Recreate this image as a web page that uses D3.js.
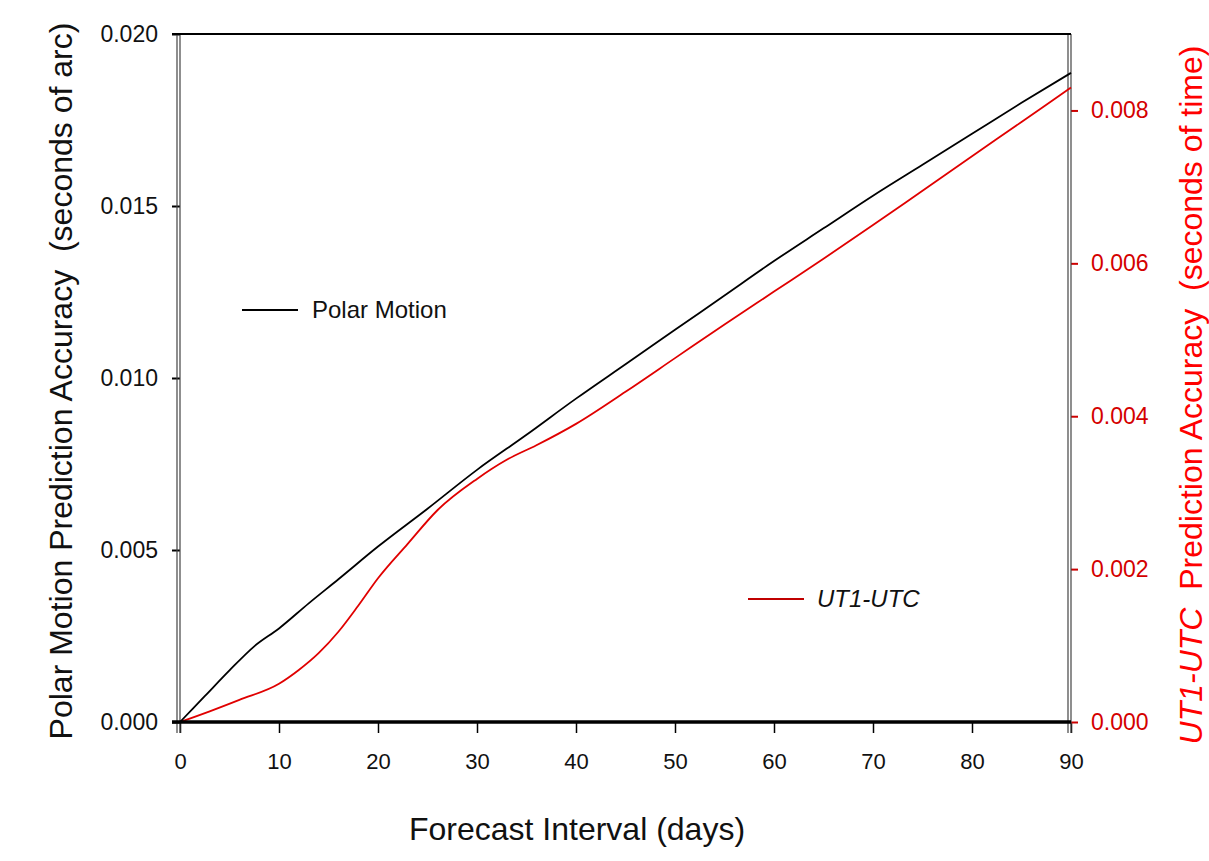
<!DOCTYPE html>
<html lang="en">
<head>
<meta charset="utf-8">
<style type="text/css">
    body { margin: 0; background: #fff; font-family: "Liberation Sans", Arial, sans-serif; }
    svg { display: block; }
    .tick text { font-family: "Liberation Sans", Arial, sans-serif; }
    .title { white-space: pre; }
</style>
</head>
<body>
<div id="chart"></div>
<script src="https://d3js.org/d3.v7.min.js"></script>
<script type="text/javascript">
    // forecast interval in days
    var polarDays   = [0, 2.5, 5, 7.5, 10, 13, 16, 20, 25, 30, 35, 40, 45, 50, 55, 60, 65, 70, 75, 80, 85, 90];
    // polar motion accuracy, seconds of arc (left axis)
    var polarValues = [0, 0.00075, 0.0015, 0.0022, 0.00272, 0.00345, 0.00415, 0.0051, 0.0062, 0.00733, 0.00835,
                       0.0094, 0.0104, 0.0114, 0.0124, 0.0134, 0.01435, 0.0153, 0.0162, 0.0171, 0.0180, 0.01887];

    var utDays   = [0, 3, 6, 10, 12, 14, 16, 18, 20, 23, 26, 30, 33, 36, 40, 45, 50, 55, 60, 65, 70, 75, 80, 85, 90];
    // UT1-UTC accuracy, seconds of time (right axis)
    var utValues = [0, 0.00014, 0.00029, 0.0005, 0.00068, 0.0009, 0.00118, 0.00152, 0.00188, 0.00233, 0.00277,
                    0.00318, 0.00343, 0.00362, 0.0039, 0.00432, 0.00476, 0.0052, 0.00563, 0.00606, 0.0065,
                    0.00695, 0.0074, 0.00785, 0.0083];

    var xTicks      = [0, 10, 20, 30, 40, 50, 60, 70, 80, 90];
    var yLeftTicks  = [0, 0.005, 0.010, 0.015, 0.020];
    var yRightTicks = [0, 0.002, 0.004, 0.006, 0.008];

    var width = 1209, height = 861;
    // plot box (note: "top" is taken by window.top, so use other names)
    var pLeft = 180, pRight = 1071, pTop = 34, pBottom = 722;

    var svg = d3.select('#chart').append('svg')
        .attr('width', width)
        .attr('height', height);

    var x  = d3.scaleLinear().domain([0, 90]).range([pLeft, pRight]);
    var yL = d3.scaleLinear().domain([0, 0.020]).range([pBottom, pTop]);
    var yR = d3.scaleLinear().domain([0, 0.009]).range([pBottom, pTop]);

    // x axis
    var gx = svg.append('g')
        .attr('transform', 'translate(0,' + pBottom + ')')
        .call(d3.axisBottom(x).tickValues(xTicks).tickSize(11).tickPadding(20));
    gx.select('.domain').remove();
    gx.attr('font-size', 22);
    gx.selectAll('.tick line').attr('stroke', '#000').attr('stroke-width', 1.5);
    gx.selectAll('.tick text').attr('fill', '#111');

    // left axis
    var gl = svg.append('g')
        .attr('transform', 'translate(' + pLeft + ',0)')
        .call(d3.axisLeft(yL).tickValues(yLeftTicks).tickFormat(d3.format('.3f')).tickSize(8).tickPadding(14));
    gl.select('.domain').remove();
    gl.attr('font-size', 23);
    gl.selectAll('.tick line').attr('stroke', '#000').attr('stroke-width', 2);
    gl.selectAll('.tick text').attr('fill', '#111');

    // right axis
    var gr = svg.append('g')
        .attr('transform', 'translate(' + pRight + ',0)')
        .call(d3.axisRight(yR).tickValues(yRightTicks).tickFormat(d3.format('.3f')).tickSize(7).tickPadding(13));
    gr.select('.domain').remove();
    gr.attr('font-size', 23);
    gr.selectAll('.tick line').attr('stroke', '#cc0000').attr('stroke-width', 2);
    gr.selectAll('.tick text').attr('fill', '#d40000');

    // frame: double vertical lines, top line
    [pLeft - 3, pLeft, pRight - 3, pRight].forEach(function (xx) {
        svg.append('line').attr('x1', xx).attr('x2', xx).attr('y1', pTop).attr('y2', pBottom + 11)
            .attr('stroke', '#444').attr('stroke-width', 1.2);
    });
    svg.append('line').attr('x1', pLeft - 8).attr('x2', pRight).attr('y1', pTop).attr('y2', pTop)
        .attr('stroke', '#000').attr('stroke-width', 2);

    // curves
    var polarLine = d3.line()
        .x(function (d, i) { return x(polarDays[i]); })
        .y(function (d) { return yL(d); })
        .curve(d3.curveMonotoneX);
    var utLine = d3.line()
        .x(function (d, i) { return x(utDays[i]); })
        .y(function (d) { return yR(d); })
        .curve(d3.curveMonotoneX);

    svg.append('path').datum(utValues)
        .attr('d', utLine).attr('fill', 'none')
        .attr('stroke', '#e00000').attr('stroke-width', 1.8);
    svg.append('path').datum(polarValues)
        .attr('d', polarLine).attr('fill', 'none')
        .attr('stroke', '#000').attr('stroke-width', 1.8);

    // heavy bottom line
    svg.append('line').attr('x1', pLeft - 8).attr('x2', pRight).attr('y1', pBottom).attr('y2', pBottom)
        .attr('stroke', '#000').attr('stroke-width', 3.5);

    // legends
    svg.append('line').attr('x1', 242).attr('x2', 298).attr('y1', 310).attr('y2', 310)
        .attr('stroke', '#000').attr('stroke-width', 2);
    svg.append('text').attr('x', 312).attr('y', 318).attr('font-size', 24).attr('fill', '#111')
        .text('Polar Motion');

    svg.append('line').attr('x1', 748).attr('x2', 804).attr('y1', 599).attr('y2', 599)
        .attr('stroke', '#c00000').attr('stroke-width', 2);
    svg.append('text').attr('x', 817).attr('y', 607).attr('font-size', 24).attr('fill', '#111')
        .attr('font-style', 'italic')
        .text('UT1-UTC');

    // axis titles
    svg.append('text').attr('class', 'title')
        .attr('x', 577).attr('y', 840).attr('text-anchor', 'middle')
        .attr('font-size', 32).attr('fill', '#111')
        .text('Forecast Interval (days)');

    svg.append('text').attr('class', 'title')
        .attr('transform', 'translate(72,381) rotate(-90)')
        .attr('text-anchor', 'middle')
        .attr('font-size', 32).attr('fill', '#111')
        .text('Polar Motion Prediction Accuracy  (seconds of arc)');

    var rt = svg.append('text').attr('class', 'title')
        .attr('transform', 'translate(1202,395) rotate(-90)')
        .attr('text-anchor', 'middle')
        .attr('font-size', 32).attr('fill', '#ff0000');
    rt.append('tspan').attr('font-style', 'italic').text('UT1-UTC');
    rt.append('tspan').text('  Prediction Accuracy  (seconds of time)');
</script>
</body>
</html>
